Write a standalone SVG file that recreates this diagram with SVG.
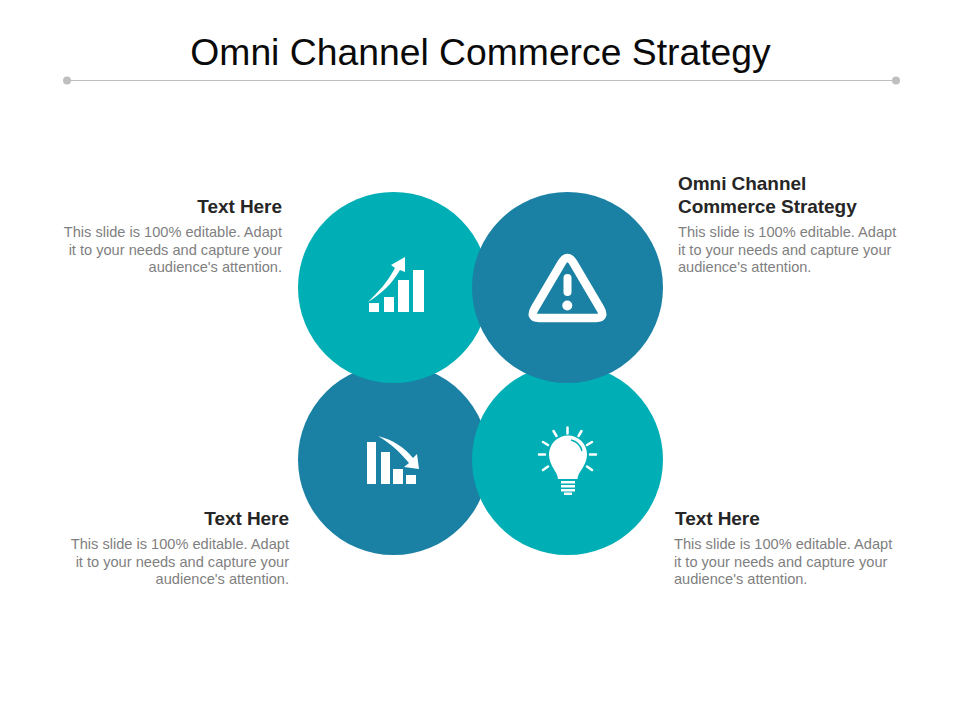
<svg xmlns="http://www.w3.org/2000/svg" width="960" height="720" viewBox="0 0 960 720">
<style>
text{font-family:"Liberation Sans",Arial,sans-serif}
.title{font-size:37.300px;fill:#0a0a0a;text-anchor:middle}
.h{font-size:19px;font-weight:bold;fill:#262626;letter-spacing:-.05px}
.b{font-size:14.600px;fill:#7f7f7f}
.r{text-anchor:end}
.ic{fill:#fff}
.teal{fill:#00aeb5}
.blue{fill:#1a81a5}
.ray{stroke:#fff;stroke-width:2.500;stroke-linecap:round;fill:none}
</style>
<rect width="960" height="720" fill="#fff"/>
<text class="title" x="480.500" y="65">Omni Channel Commerce Strategy</text>
<g id="rule"><line x1="67" y1="80.500" x2="896" y2="80.500" stroke="#bfbfbf" stroke-width="1"/><circle cx="67" cy="80.500" r="4" fill="#bfbfbf"/><circle cx="896" cy="80.500" r="4" fill="#bfbfbf"/></g>
<g id="node-bl"><circle class="blue" cx="393.500" cy="459.500" r="95.500"/>
<path class="ic" d="M367 442h9v42h-9zM381 452h9v32h-9zM393 469h10v15h-10zM406 475h10v9h-10z"/>
<path class="ic" d="M378 436C393 440 404 447 413 458L417 454L419 469L404 467L409 463C400 452 390 443 378 436Z"/></g>
<g id="node-br"><circle class="teal" cx="567.500" cy="459.500" r="95.500"/>
<path class="ic" d="M558 479C558 472 549 466 549 454.500A19 19 0 0 1 587 454.500C587 466 577.500 472 577.500 479Z"/>
<path d="M571 440A15 15 0 0 1 582 451" fill="none" stroke="#00aeb5" stroke-width="1.300"/>
<path class="ic" d="M561 481h14v2.500h-14zM561 485h14v2.500h-14zM561 489h14v2.500h-14zM564 492.500h8v2.500h-8z"/>
<path class="ray" d="M567.500 427.500v6M553.500 431l3 5M581.500 431l-3 5M543 442l5 3M592 442l-5 3M539 454.500h6M590 454.500h6M543 470l5-3.500M592 470l-5-3.500"/></g>
<g id="node-tl"><circle class="teal" cx="393.500" cy="287.500" r="95.500"/>
<path class="ic" d="M369 303h10v9h-10zM384 297h10v15h-10zM398 280h11v32h-11zM413 270h11v42h-11z"/>
<path class="ic" d="M368 302C378 292 387 283 395 268L391 265L405 257L405 272L400 270C392 284 381 294 368 302Z"/></g>
<g id="node-tr"><circle class="blue" cx="567.500" cy="287.500" r="95.500"/>
<path d="M561.500 263Q567.500 253 573.500 263L600 308Q606 318 596 318H539Q529 318 535 308Z" fill="none" stroke="#fff" stroke-width="8.500" stroke-linejoin="round"/>
<rect class="ic" x="563.500" y="274" width="8" height="22" rx="4"/><circle class="ic" cx="567.300" cy="305.500" r="5"/></g>
<g id="label-tl"><text class="h r" x="282" y="212.500">Text Here</text>
<text class="b r" x="282" y="236.500">This slide is 100% editable. Adapt</text><text class="b r" x="282" y="254.500">it to your needs and capture your</text><text class="b r" x="282" y="271.500">audience's attention.</text></g>
<g id="label-tr"><text class="h" x="678" y="190">Omni Channel</text><text class="h" x="678" y="213">Commerce Strategy</text>
<text class="b" x="678" y="236.500">This slide is 100% editable. Adapt</text><text class="b" x="678" y="254.500">it to your needs and capture your</text><text class="b" x="678" y="271.500">audience's attention.</text></g>
<g id="label-bl"><text class="h r" x="289" y="525">Text Here</text>
<text class="b r" x="289" y="548.500">This slide is 100% editable. Adapt</text><text class="b r" x="289" y="566.500">it to your needs and capture your</text><text class="b r" x="289" y="583.500">audience's attention.</text></g>
<g id="label-br"><text class="h" x="675" y="525">Text Here</text>
<text class="b" x="674" y="548.500">This slide is 100% editable. Adapt</text><text class="b" x="674" y="566.500">it to your needs and capture your</text><text class="b" x="674" y="583.500">audience's attention.</text></g>
<g id="connectors"></g>
</svg>
